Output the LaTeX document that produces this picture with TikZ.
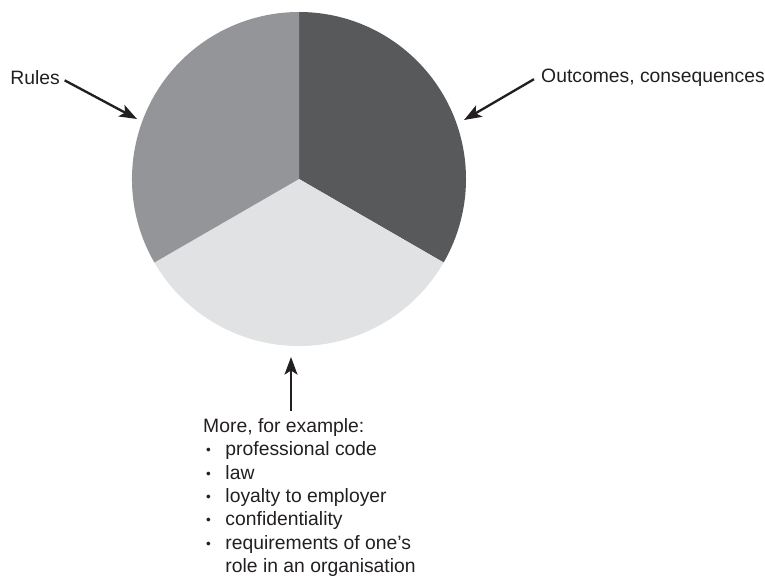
\documentclass[tikz,border=0pt]{standalone}
\usepackage{fontspec}
\setmainfont{Liberation Sans}
\usepackage{xcolor}
\usetikzlibrary{arrows.meta, positioning}

\definecolor{slicedark}{HTML}{58595B}
\definecolor{slicemid}{HTML}{939598}
\definecolor{slicelight}{HTML}{E1E2E3}
\definecolor{arrowblack}{HTML}{231F20}

\newcommand{\itm}{\makebox[19pt][l]{\hspace{2.5pt}\raisebox{0.1ex}{\scalebox{0.7}{\textbullet}}}}

\begin{document}
\begin{tikzpicture}[x=0.03cm, y=0.03cm,
        every node/.style={font=\fontsize{16.5}{20}\selectfont, inner sep=0pt, text=arrowblack},
        pointer/.style={draw=arrowblack, line width=2pt,
            -{Stealth[length=15pt, width=11pt, inset=3.5pt]}}]
        \useasboundingbox (0,0) rectangle (765,579);

        % pie
        \coordinate (c) at (299,400);
        \fill[slicedark] (c) -- ++(90:167) arc (90:-30:167) -- cycle;
        \fill[slicelight] (c) -- ++(-30:167) arc (-30:-150:167) -- cycle;
        \fill[slicemid] (c) -- ++(210:167) arc (210:90:167) -- cycle;

        % labels
        \node[anchor=east] at (60, 501) (rules) {Rules};
        \node[anchor=west] at (541, 501) (outcomes) {Outcomes, consequences};
        \node[anchor=north west, align=left] at (203, 161) (more) {More, for example:\\
            \itm professional code\\
            \itm law\\
            \itm loyalty to employer\\
            \itm confidentiality\\
            \itm requirements of one's\\
            \hspace*{19pt}role in an organisation};

        \coordinate (rtip) at (137, 460);
        \coordinate (otip) at (464, 459);
        \coordinate (mtip) at (291, 222);

        \draw[pointer] ([xshift=-2pt, yshift=-2pt]rules.east) ++(7,0) to (rtip);
        \draw[pointer] ([yshift=-1pt]outcomes.west) ++(-7,0) to (otip);
        \draw[pointer] (mtip |- more.north) ++(0,7) to (mtip);
    \end{tikzpicture}
\end{document}
